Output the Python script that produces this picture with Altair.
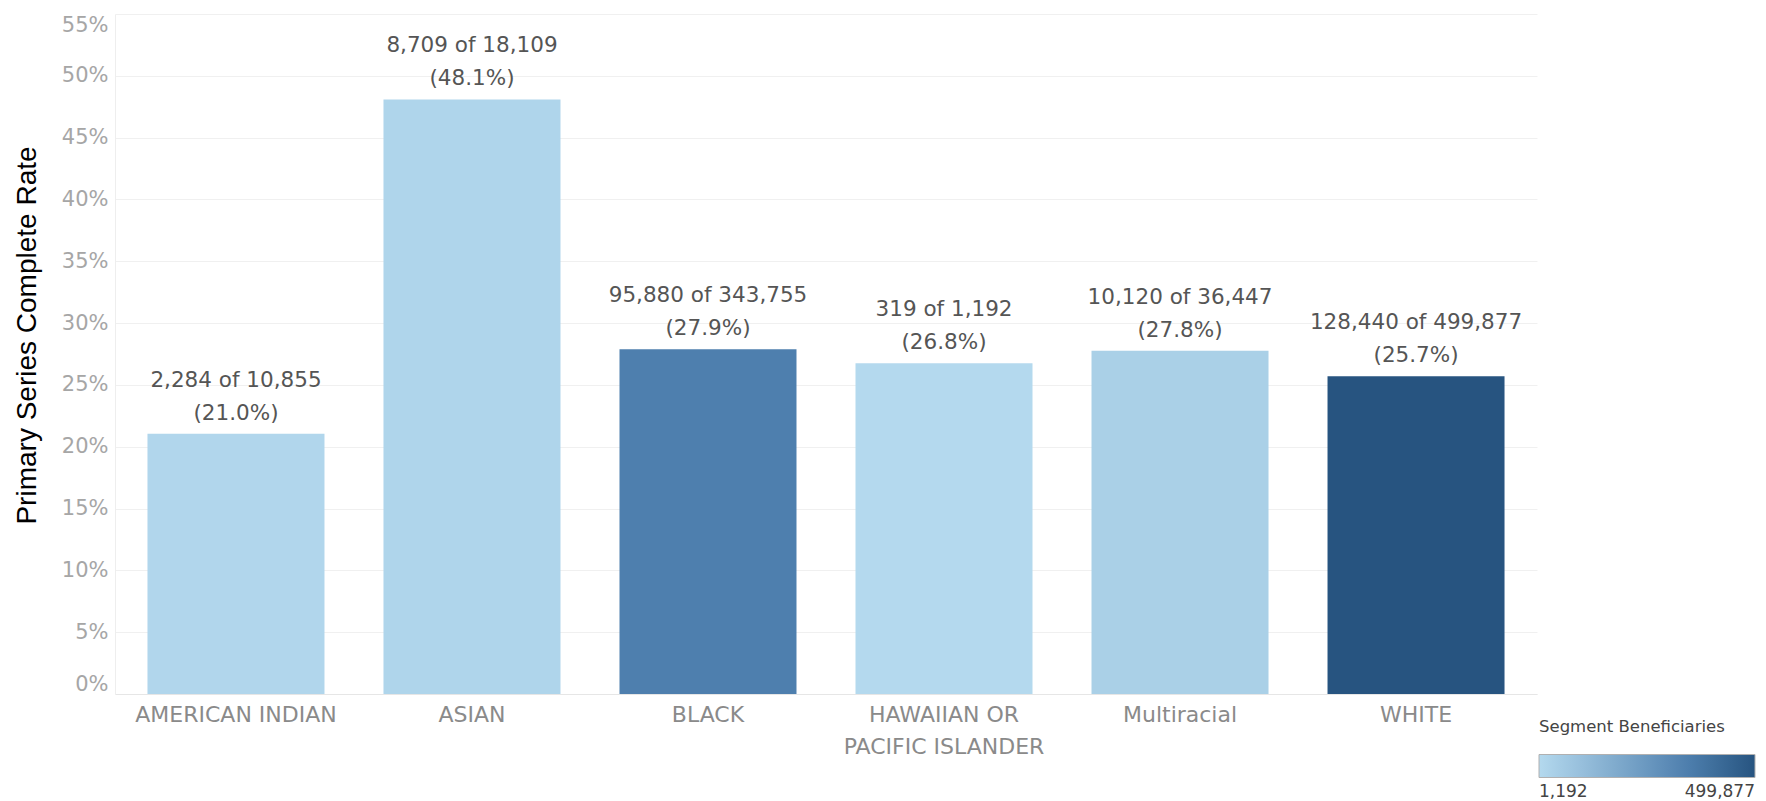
import altair as alt
import pandas as pd

# ---- data ----
categories = ["AMERICAN INDIAN", "ASIAN", "BLACK",
              "HAWAIIAN OR PACIFIC ISLANDER", "Multiracial", "WHITE"]
completed = [2284, 8709, 95880, 319, 10120, 128440]
beneficiaries = [10855, 18109, 343755, 1192, 36447, 499877]
y_ticks = [0, 0.05, 0.10, 0.15, 0.20, 0.25, 0.30, 0.35, 0.40, 0.45, 0.50, 0.55]
legend_values = [1192, 499877]
color_domain = [1192, 343755, 499877]
color_range = ["#b4d9ee", "#4e7fae", "#275480"]

rates = [c / t for c, t in zip(completed, beneficiaries)]
labels = [f"{c:,} of {t:,}\n({r * 100:.1f}%)" for c, t, r in zip(completed, beneficiaries, rates)]

df = pd.DataFrame({
    "category": categories,
    "completed": completed,
    "beneficiaries": beneficiaries,
    "rate": rates,
    "label": labels,
})

FONT = "DejaVu Sans"

x_enc = alt.X(
    "category:N",
    sort=categories,
    scale=alt.Scale(paddingInner=0.25, paddingOuter=0.1376),
    axis=alt.Axis(
        title=None,
        labelAngle=0,
        ticks=False,
        grid=False,
        domain=True,
        domainColor="#e6e6e6",
        labelFont=FONT,
        labelFontSize=22,
        labelColor="#8a8a8a",
        labelPadding=10,
        labelLineHeight=32,
        labelLimit=0,
        labelExpr="datum.value == 'HAWAIIAN OR PACIFIC ISLANDER' ? ['HAWAIIAN OR', 'PACIFIC ISLANDER'] : datum.label",
    ),
)

y_enc = alt.Y(
    "rate:Q",
    scale=alt.Scale(domain=[0, 0.55], nice=False),
    axis=alt.Axis(
        title="Primary Series Complete Rate",
        values=y_ticks,
        format=".0%",
        grid=True,
        gridColor="#f0f0f0",
        ticks=False,
        domain=True,
        domainColor="#eeeeee",
        labelFont=FONT,
        labelFontSize=21,
        labelColor="#a6a6a6",
        labelPadding=7,
        labelFlush=True,
        titleFont="Liberation Sans",
        titleFontSize=28,
        titleFontWeight="normal",
        titleColor="#000000",
        titleAngle=270,
        titleAlign="center",
        titleBaseline="middle",
        titleX=-88,
        titleY=321,
    ),
)

bars = alt.Chart(df).mark_bar().encode(
    x=x_enc,
    y=y_enc,
    color=alt.Color(
        "beneficiaries:Q",
        scale=alt.Scale(domain=color_domain, range=color_range, interpolate="rgb"),
        legend=alt.Legend(
            title="Segment Beneficiaries",
            orient="none",
            legendX=1424,
            legendY=705,
            direction="horizontal",
            gradientLength=216,
            gradientThickness=23,
            gradientStrokeColor="#b0b0b0",
            gradientStrokeWidth=1,
            values=legend_values,
            format=",d",
            titleFont=FONT,
            titleFontSize=16.5,
            titleFontWeight="normal",
            titleColor="#444444",
            titlePadding=19,
            titleLimit=400,
            labelFont=FONT,
            labelFontSize=17,
            labelColor="#444444",
            labelOffset=6,
            labelLimit=300,
        ),
    ),
)

text = alt.Chart(df).mark_text(
    font=FONT,
    fontSize=21.5,
    color="#555555",
    lineBreak="\n",
    lineHeight=33,
    baseline="middle",
    dy=-53,
).encode(
    x=alt.X("category:N", sort=categories),
    y=alt.Y("rate:Q"),
    text="label:N",
)

chart = alt.layer(bars, text).properties(
    width=1422,
    height=680,
    padding={"left": 115, "top": 14, "right": 229, "bottom": 107},
    autosize=alt.AutoSizeParams(type="none"),
    background="white",
).configure_view(stroke=None)

chart.save("out.html", embed_options={"renderer": "svg", "actions": False})
